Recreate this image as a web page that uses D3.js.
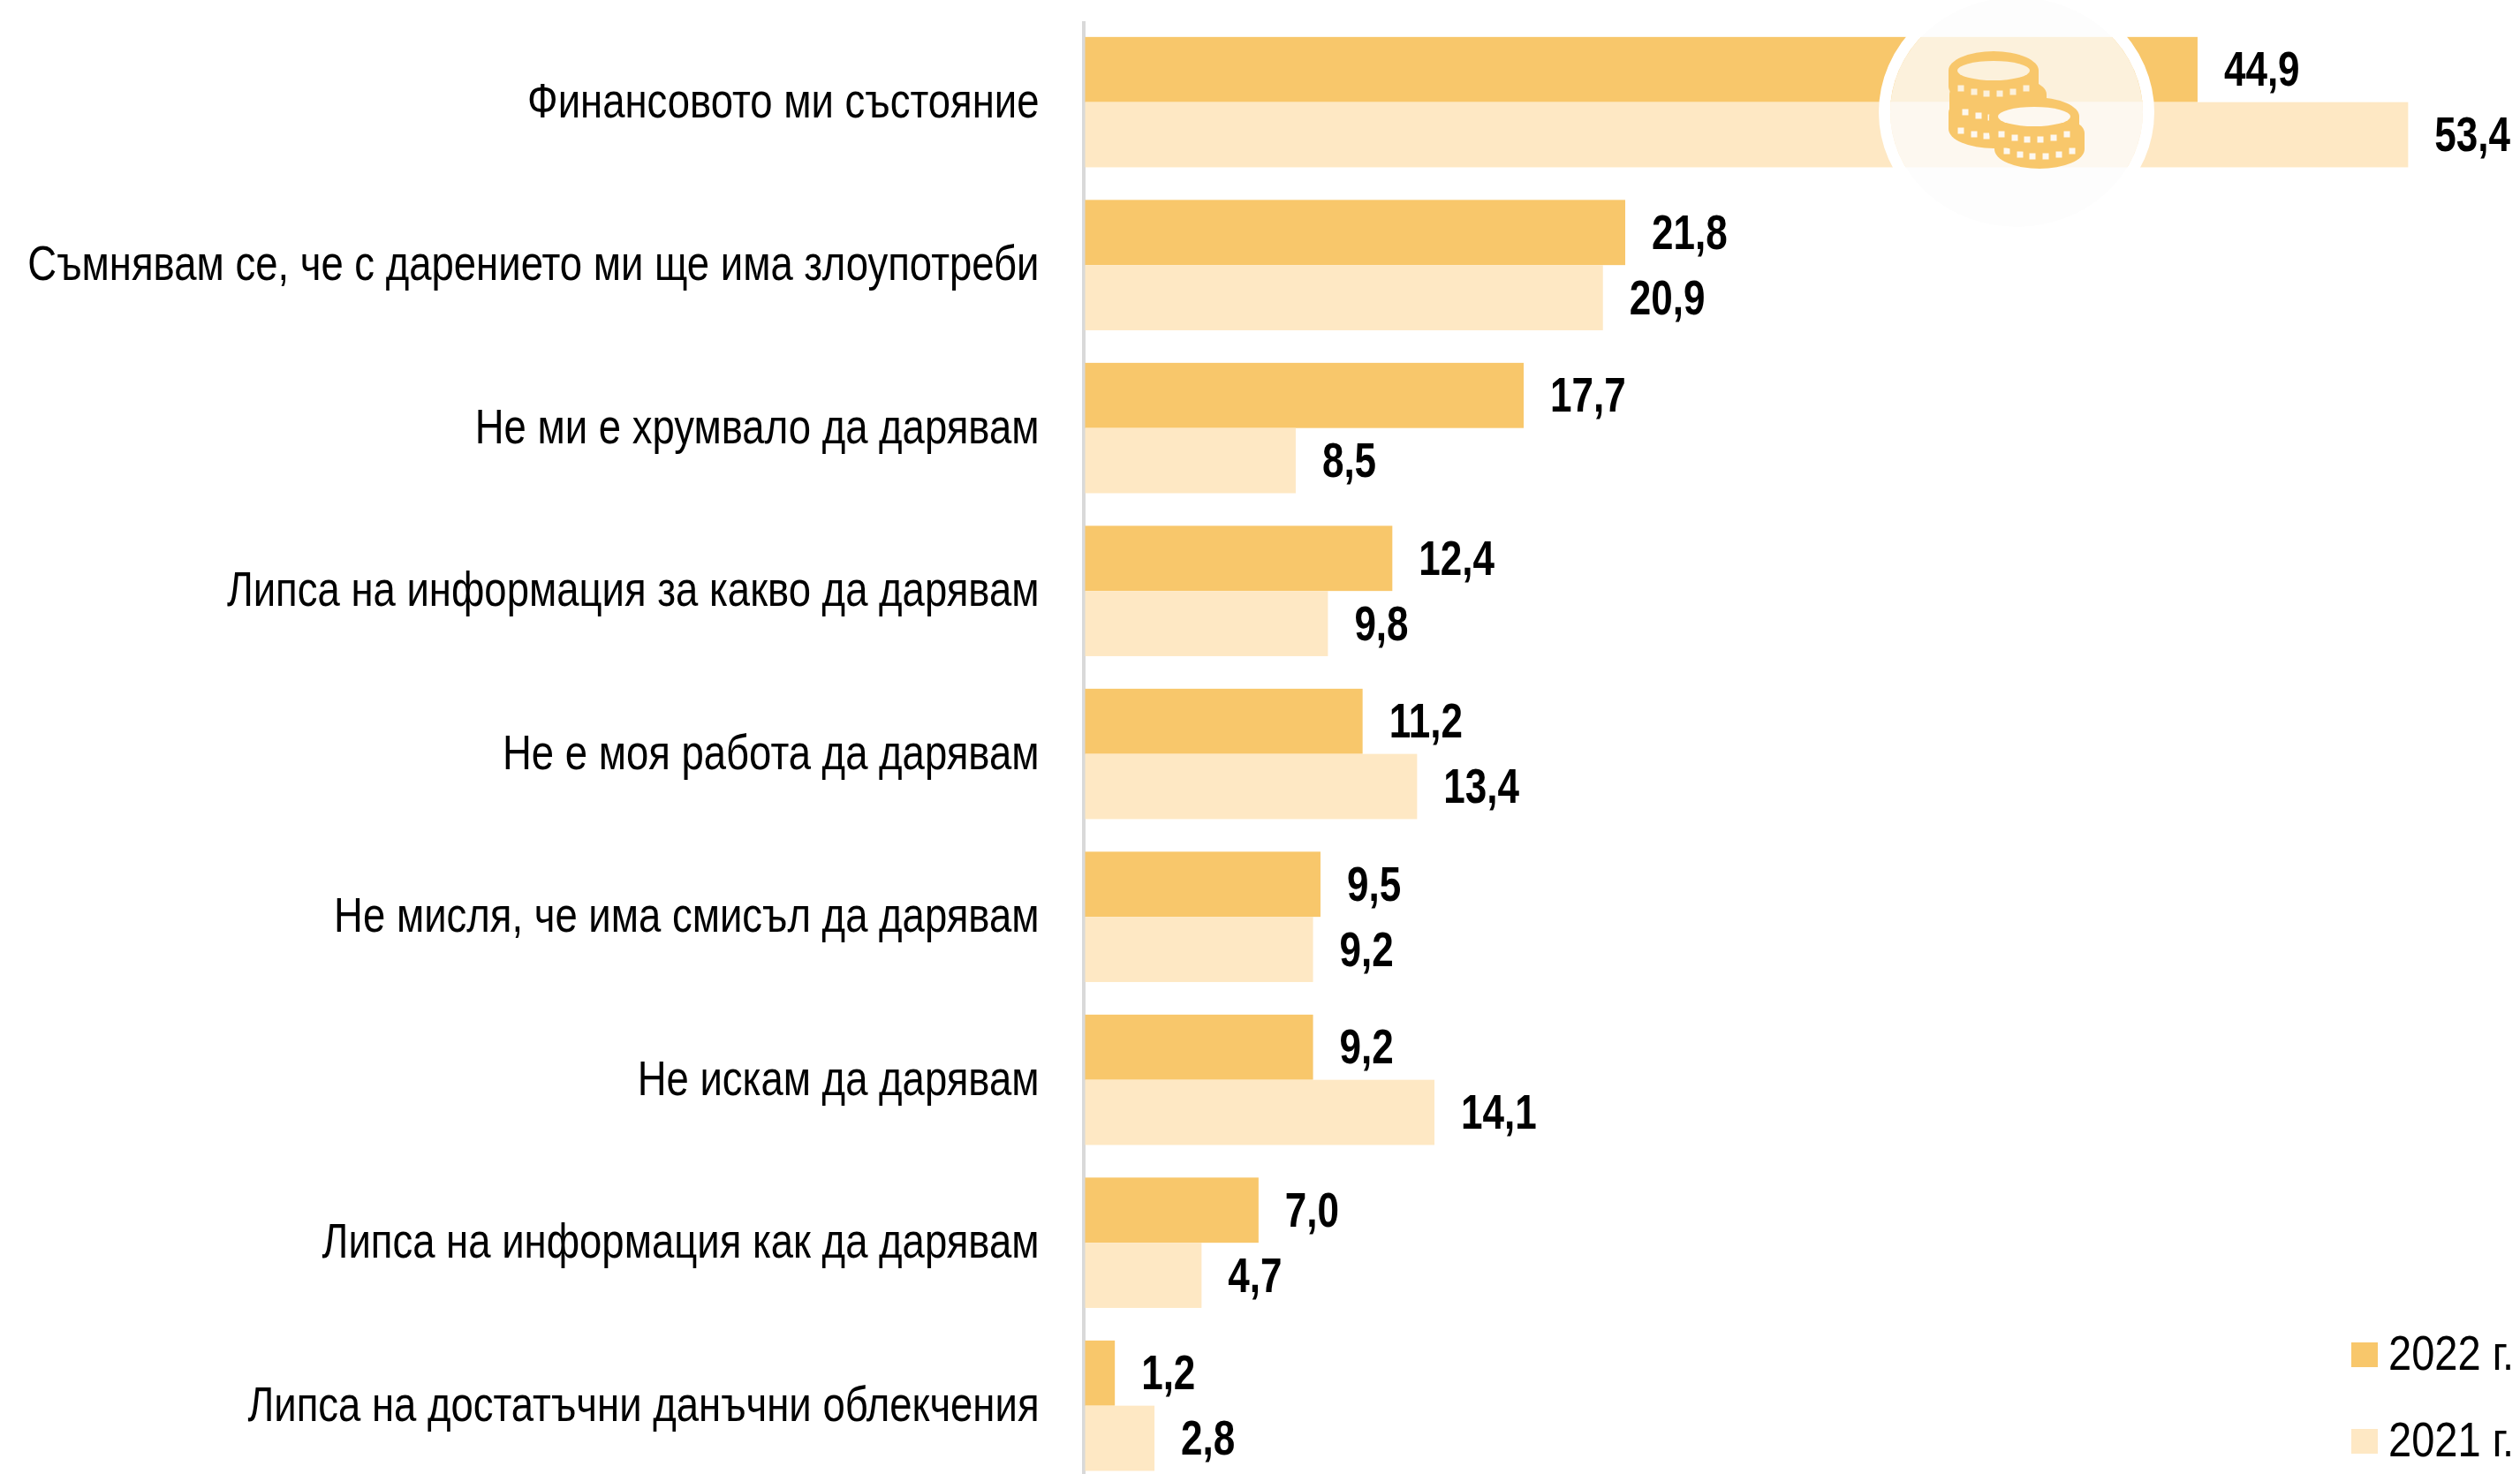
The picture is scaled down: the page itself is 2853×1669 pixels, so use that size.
<!DOCTYPE html>
<html>
<head>
<meta charset="utf-8">
<script src="https://d3js.org/d3.v7.min.js"></script>
<style>
  html, body { margin: 0; padding: 0; background: #fff; overflow: hidden; }
  text { font-family: "Liberation Sans", Arial, sans-serif; fill: #000; }
</style>
</head>
<body>
<svg id="chart" width="2853" height="1669"></svg>
<script>
// data
const categories = [
  "Финансовото ми състояние",
  "Съмнявам се, че с дарението ми ще има злоупотреби",
  "Не ми е хрумвало да дарявам",
  "Липса на информация за какво да дарявам",
  "Не е моя работа да дарявам",
  "Не мисля, че има смисъл да дарявам",
  "Не искам да дарявам",
  "Липса на информация как да дарявам",
  "Липса на достатъчни данъчни облекчения"
];
const values2022 = [44.9, 21.8, 17.7, 12.4, 11.2, 9.5, 9.2, 7.0, 1.2];
const values2021 = [53.4, 20.9, 8.5, 9.8, 13.4, 9.2, 14.1, 4.7, 2.8];
const seriesNames = ["2022 г.", "2021 г."];
const seriesColors = ["#F8C76B", "#FEE8C4"];

const svg = d3.select("#chart");
const x0 = 1228.5;
const fontSize = 55;
const catStretch = 0.827;   // original text is squeezed horizontally
const valStretch = 0.80;
const legStretch = 0.855;

const x = d3.scaleLinear().domain([0, 60]).range([x0, x0 + 60 * 28.05]);
const y = d3.scaleBand()
  .domain(categories)
  .range([23.4, 1683.9])
  .paddingInner(0.2)
  .paddingOuter(0.1);
const y1 = d3.scaleBand().domain(seriesNames).range([0, y.bandwidth()]);

const fmt = d => d.toFixed(1).replace(".", ",");

// category axis
const axis = svg.append("g")
  .attr("transform", "translate(1226.5,0)")
  .call(d3.axisLeft(y).tickSize(0).tickSizeOuter(0));
axis.select(".domain").attr("stroke", "#d9d9d9").attr("stroke-width", 4);
axis.selectAll("text")
  .attr("font-size", fontSize)
  .attr("font-family", null)
  .attr("dy", "0.31em")
  .attr("x", -50 / catStretch)
  .attr("transform", "scale(" + catStretch + ",1)");

// bars and value labels
[values2022, values2021].forEach(function (vals, s) {
  const g = svg.append("g");
  g.selectAll("rect")
    .data(vals)
    .enter()
    .append("rect")
    .attr("x", x(0))
    .attr("y", (d, i) => y(categories[i]) + y1(seriesNames[s]))
    .attr("width", d => x(d) - x(0))
    .attr("height", y1.bandwidth())
    .attr("fill", seriesColors[s]);
  g.selectAll("text")
    .data(vals)
    .enter()
    .append("text")
    .attr("font-size", fontSize)
    .attr("font-weight", "bold")
    .attr("transform", (d, i) => "translate(" + (x(d) + 30) + "," +
      (y(categories[i]) + y1(seriesNames[s]) + y1.bandwidth() / 2 + 18.5) + ") scale(" + valStretch + ",1)")
    .text(fmt);
});

// legend
const legendTop = [1520, 1618];
const legendBase = [1551, 1649];
seriesNames.forEach(function (name, s) {
  svg.append("rect")
    .attr("x", 2662).attr("y", legendTop[s])
    .attr("width", 30).attr("height", 28)
    .attr("fill", seriesColors[s]);
  svg.append("text")
    .attr("font-size", fontSize)
    .attr("transform", "translate(2704," + legendBase[s] + ") scale(" + legStretch + ",1)")
    .text(name);
});

// coins badge on top of the first row
function drawBadge() {
  const cx = 2283, cy = 127;
  svg.append("ellipse")
    .attr("cx", cx).attr("cy", cy).attr("rx", 143).attr("ry", 130)
    .attr("fill", "#fcfcfc").attr("opacity", 0.78);
  svg.append("ellipse")
    .attr("cx", cx).attr("cy", cy).attr("rx", 149.5).attr("ry", 136.5)
    .attr("fill", "none").attr("stroke", "#fff").attr("stroke-width", 13);

  const mask = svg.append("defs").append("mask")
    .attr("id", "coins")
    .attr("maskUnits", "userSpaceOnUse")
    .attr("x", 2150).attr("y", 0).attr("width", 280).attr("height", 260);

  const ry = 22, h = 18;
  const dotX = [-37, -22, -8, 7, 22, 37];
  const dotY = [20, 24, 26, 26, 24, 20];

  // back to front, each coin hides what lies behind it
  const coins = [
    { cx: 2257, cy: 128, r: 51, hole: false },
    { cx: 2262, cy: 107, r: 55, hole: false },
    { cx: 2257, cy: 80, r: 51, hole: true },
    { cx: 2309, cy: 151, r: 51, hole: false },
    { cx: 2303, cy: 132, r: 51, hole: true }
  ];
  coins.forEach(function (c) {
    mask.append("path")
      .attr("d", "M" + (c.cx - c.r) + "," + c.cy +
        "A" + c.r + "," + ry + " 0 0 1 " + (c.cx + c.r) + "," + c.cy +
        "V" + (c.cy + h) +
        "A" + c.r + "," + ry + " 0 0 1 " + (c.cx - c.r) + "," + (c.cy + h) + "Z")
      .attr("fill", "#fff");
    dotX.forEach(function (dx, i) {
      mask.append("rect")
        .attr("x", c.cx + dx - 3.5).attr("y", c.cy + dotY[i] - 3.5)
        .attr("width", 7).attr("height", 7)
        .attr("fill", "#000");
    });
    if (c.hole) {
      mask.append("ellipse")
        .attr("cx", c.cx).attr("cy", c.cy).attr("rx", 41).attr("ry", 11)
        .attr("fill", "#000");
    }
  });

  svg.append("rect")
    .attr("x", 2150).attr("y", 0).attr("width", 280).attr("height", 260)
    .attr("fill", seriesColors[0])
    .attr("mask", "url(#coins)");
}
drawBadge();
</script>
</body>
</html>
